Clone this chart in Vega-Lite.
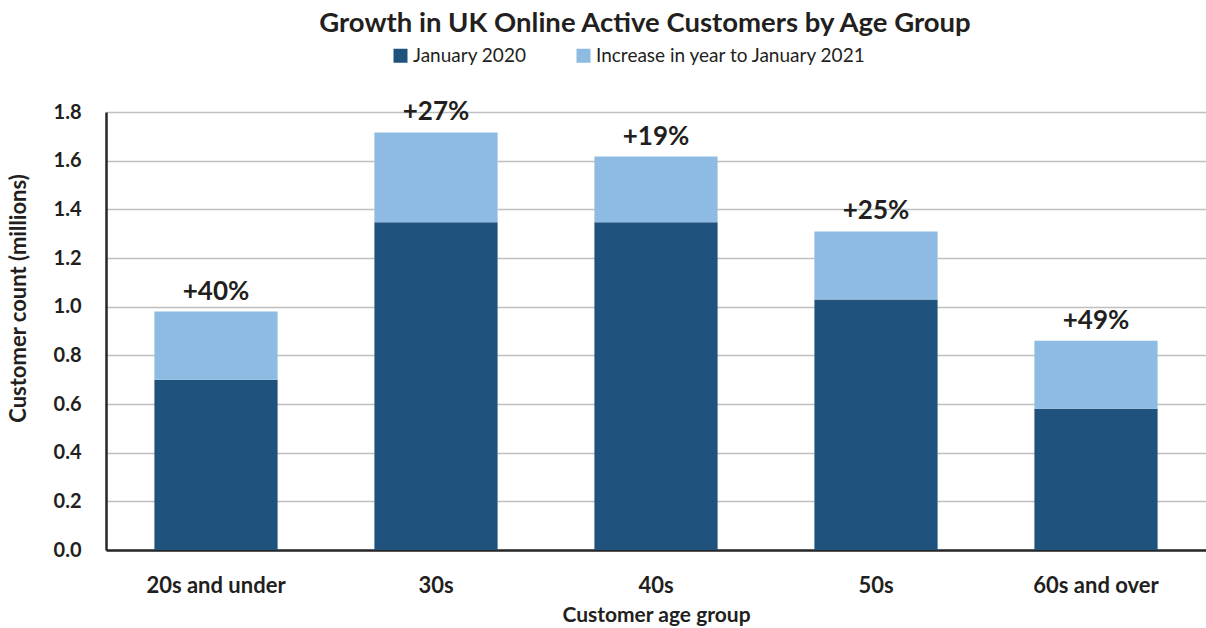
{
  "$schema": "https://vega.github.io/schema/vega-lite/v6.json",
  "autosize": {"type": "none"},
  "width": 1100,
  "height": 438,
  "padding": {"left": 106, "top": 112, "right": 0, "bottom": 78},
  "background": "white",
  "title": {
    "text": "Growth in UK Online Active Customers by Age Group",
    "font": "Lato",
    "fontSize": 27.5,
    "fontWeight": "bold",
    "color": "#231F20",
    "anchor": "middle",
    "dx": -11,
    "offset": 9
  },
  "datasets": {
    "bars": [
      {"age": "20s and under", "series": "January 2020", "k": 0, "value": 0.70},
      {"age": "20s and under", "series": "Increase in year to January 2021", "k": 1, "value": 0.28},
      {"age": "30s", "series": "January 2020", "k": 0, "value": 1.347},
      {"age": "30s", "series": "Increase in year to January 2021", "k": 1, "value": 0.369},
      {"age": "40s", "series": "January 2020", "k": 0, "value": 1.347},
      {"age": "40s", "series": "Increase in year to January 2021", "k": 1, "value": 0.27},
      {"age": "50s", "series": "January 2020", "k": 0, "value": 1.029},
      {"age": "50s", "series": "Increase in year to January 2021", "k": 1, "value": 0.28},
      {"age": "60s and over", "series": "January 2020", "k": 0, "value": 0.58},
      {"age": "60s and over", "series": "Increase in year to January 2021", "k": 1, "value": 0.28}
    ],
    "labels": [
      {"age": "20s and under", "total": 0.98, "label": "+40%"},
      {"age": "30s", "total": 1.716, "label": "+27%"},
      {"age": "40s", "total": 1.617, "label": "+19%"},
      {"age": "50s", "total": 1.309, "label": "+25%"},
      {"age": "60s and over", "total": 0.86, "label": "+49%"}
    ]
  },
  "layer": [
    {
      "data": {"name": "bars"},
      "mark": {"type": "bar"},
      "encoding": {
        "x": {
          "field": "age",
          "type": "nominal",
          "sort": null,
          "scale": {"paddingInner": 0.44, "paddingOuter": 0.22},
          "axis": {
            "title": "Customer age group",
            "labelAngle": 0,
            "labelFont": "Lato",
            "labelFontSize": 22,
            "labelFontWeight": "bold",
            "labelColor": "#231F20",
            "labelPadding": 25,
            "ticks": false,
            "domainColor": "#262626",
            "domainWidth": 2.5,
            "titleFont": "Lato",
            "titleFontSize": 21,
            "titleFontWeight": "bold",
            "titleColor": "#231F20",
            "titlePadding": 8
          }
        },
        "y": {
          "field": "value",
          "type": "quantitative",
          "stack": "zero",
          "scale": {"domain": [0, 1.8], "nice": false},
          "axis": {
            "title": "Customer count (millions)",
            "values": [0, 0.2, 0.4, 0.6, 0.8, 1.0, 1.2, 1.4, 1.6, 1.8],
            "format": ".1f",
            "labelFont": "Lato",
            "labelFontSize": 20,
            "labelFontWeight": "bold",
            "labelColor": "#231F20",
            "labelPadding": 25,
            "ticks": false,
            "domainColor": "#262626",
            "domainWidth": 2.5,
            "gridColor": "#BFBFBF",
            "gridWidth": 1.5,
            "titleFont": "Lato",
            "titleFontSize": 22,
            "titleFontWeight": "bold",
            "titleColor": "#231F20",
            "titlePadding": 23,
            "titleY": 186
          }
        },
        "color": {
          "field": "series",
          "type": "nominal",
          "scale": {
            "domain": ["January 2020", "Increase in year to January 2021"],
            "range": ["#1F527C", "#8DBBE2"]
          },
          "legend": {
            "title": null,
            "orient": "none",
            "direction": "horizontal",
            "legendX": 285,
            "legendY": -66,
            "symbolType": "square",
            "symbolSize": 196,
            "symbolStrokeWidth": 0,
            "labelFont": "Lato",
            "labelFontSize": 19,
            "labelColor": "#231F20",
            "labelOffset": 3,
            "labelLimit": 500,
            "columnPadding": 47,
            "padding": 0
          }
        },
        "order": {"field": "k", "type": "quantitative"}
      }
    },
    {
      "data": {"name": "labels"},
      "mark": {
        "type": "text",
        "font": "Lato",
        "fontSize": 26,
        "fontWeight": "bold",
        "color": "#231F20",
        "baseline": "alphabetic",
        "dy": -12
      },
      "encoding": {
        "x": {"field": "age", "type": "nominal", "sort": null},
        "y": {"field": "total", "type": "quantitative"},
        "text": {"field": "label"}
      }
    }
  ],
  "config": {
    "view": {"stroke": null}
  }
}
